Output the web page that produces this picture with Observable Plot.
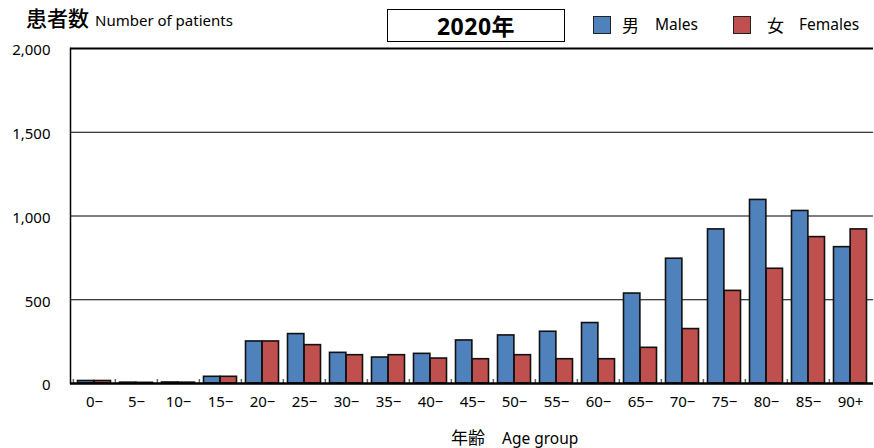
<!DOCTYPE html>
<html>
<head>
<meta charset="utf-8">
<script src="https://cdn.jsdelivr.net/npm/d3@7"></script>
<script src="https://cdn.jsdelivr.net/npm/@observablehq/plot@0.6"></script>
<style>
  body { margin: 0; background: #fff; }
  #wrap { position: relative; width: 874px; height: 448px; overflow: hidden; font-family: "Noto Sans", "Noto Sans CJK JP", sans-serif; color: #000; }
  #header { position: relative; height: 40px; }
  .abs { position: absolute; white-space: nowrap; }
  .sw { position: absolute; width: 16px; height: 16px; border: 1px solid #222; box-sizing: content-box; }
  #chart svg { display: block; }
</style>
</head>
<body>
<div id="wrap">
  <div id="header">
    <div class="abs" style="left:26px;top:2px;"><span style="font-family:'Noto Sans CJK JP';font-size:21px;font-weight:500;">患者数</span><span style="font-size:15px;margin-left:6px;">Number of patients</span></div>
    <div class="abs" style="left:387px;top:9px;width:176px;height:31px;border:1px solid #000;text-align:center;line-height:31px;font-weight:bold;font-size:23px;letter-spacing:0.5px;">2020<span style="font-family:'Noto Sans CJK JP';">年</span></div>
    <div class="sw" style="left:593px;top:16px;background:#4F81BD;"></div>
    <div class="abs" style="left:622px;top:12px;font-family:'Noto Sans CJK JP';font-size:17px;">男</div>
    <div class="abs" style="left:655px;top:13px;font-size:15.5px;">Males</div>
    <div class="sw" style="left:733px;top:16px;background:#C0504D;"></div>
    <div class="abs" style="left:767px;top:12px;font-family:'Noto Sans CJK JP';font-size:17px;">女</div>
    <div class="abs" style="left:799px;top:13px;font-size:15.5px;">Females</div>
  </div>
  <div id="chart"></div>
  <div class="abs" style="left:451px;top:427px;line-height:19px;"><span style="font-family:'Noto Sans CJK JP';font-size:17px;">年齢</span><span style="font-size:15.5px;margin-left:17px;">Age group</span></div>
</div>
<script>
const ageGroups = ["0−","5−","10−","15−","20−","25−","30−","35−","40−","45−","50−","55−","60−","65−","70−","75−","80−","85−","90+"];
const males   = [15, 5, 6, 40, 251, 295, 183, 155, 177, 257, 287, 309, 361, 537, 745, 920, 1096, 1030, 814];
const females = [15, 4, 5, 40, 251, 229, 169, 169, 149, 145, 169, 145, 145, 213, 325, 553, 685, 874, 920];
const yTicks = [0, 500, 1000, 1500, 2000];
const gridTicks = [500, 1000, 1500];

const data = ageGroups.map((a, i) => ({ age: a, male: males[i], female: females[i] }));

const W = 874, H = 380, mL = 70, mR = 1, mT = 8, mB = 37;
const bw = (W - mL - mR) / ageGroups.length;
const outer = 4.5;

const chart = Plot.plot({
  width: W, height: H,
  marginLeft: mL, marginRight: mR, marginTop: mT, marginBottom: mB,
  style: { fontFamily: "'Noto Sans', 'Noto Sans CJK JP', sans-serif", fontSize: "15px", color: "#000", background: "#fff", overflow: "visible" },
  x: { type: "band", domain: ageGroups, padding: 0, label: null },
  y: { domain: [0, 2000], label: null },
  marks: [
    Plot.ruleY(gridTicks, { stroke: "#000", strokeWidth: 1 }),
    Plot.ruleY([2000], { stroke: "#000", strokeWidth: 2 }),
    Plot.barY(data, { x: "age", y: "male", fill: "#4F81BD", stroke: "#111", strokeWidth: 1.6, insetLeft: outer, insetRight: bw / 2 }),
    Plot.barY(data, { x: "age", y: "female", fill: "#C0504D", stroke: "#111", strokeWidth: 1.6, insetLeft: bw / 2, insetRight: outer }),
    Plot.axisX({ tickSize: 4, tickFormat: () => "", dx: -bw / 2, dy: -4, stroke: "#666", strokeWidth: 1.5 }),
    Plot.axisX({ tickSize: 0, tickPadding: 13, fontSize: 15 }),
    Plot.axisY({ ticks: yTicks, tickSize: 0, tickPadding: 20, dy: 2, fontSize: 15, tickFormat: d3.format(",") }),
    Plot.frame({ anchor: "left", stroke: "#000", strokeWidth: 1.5 }),
    Plot.ruleY([0], { stroke: "#000", strokeWidth: 2.5 })
  ]
});
document.getElementById("chart").appendChild(chart);
</script>
</body>
</html>
